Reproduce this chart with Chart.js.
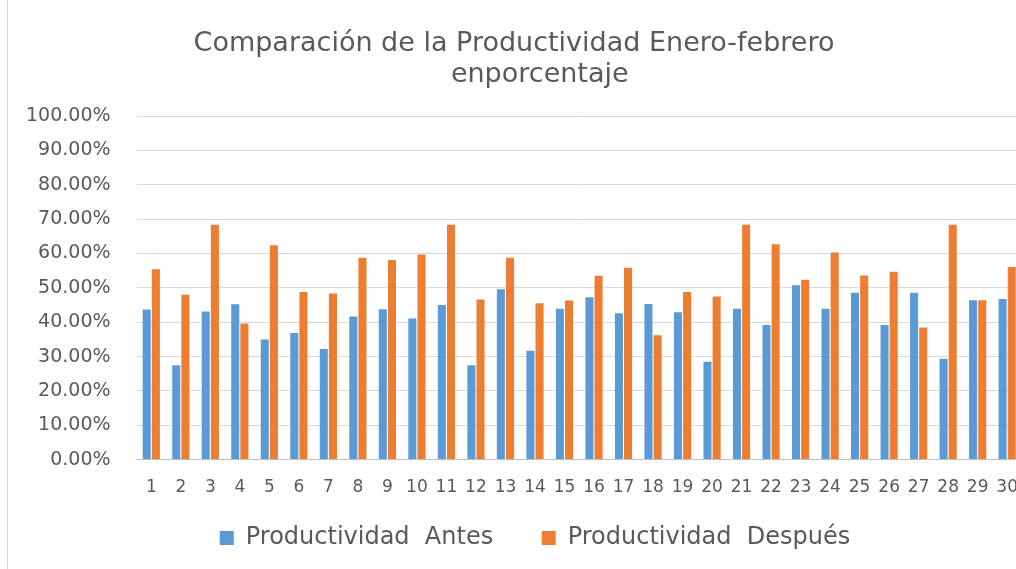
<!DOCTYPE html>
<html>
<head>
<meta charset="utf-8">
<script src="https://cdn.jsdelivr.net/npm/chart.js@4.4.0/dist/chart.umd.min.js"></script>
<style>
  html, body { margin: 0; padding: 0; background: #fff; overflow: hidden; }
  #marco { position: relative; width: 1016px; height: 569px; overflow: hidden; }
  #linea { position: absolute; left: 7px; top: 0; width: 1px; height: 569px; background: #d9d9d9; }
  #caja { position: absolute; left: 0; top: 0; width: 1028px; height: 569px; }
</style>
</head>
<body>
<div id="marco">
  <div id="caja"><canvas id="grafico"></canvas></div>
  <div id="linea"></div>
</div>
<script>
// datos (fraccion)
const trabajadores = ['1','2','3','4','5','6','7','8','9','10','11','12','13','14','15',
  '16','17','18','19','20','21','22','23','24','25','26','27','28','29','30'];
const antes = [0.437, 0.275, 0.431, 0.452, 0.350, 0.369, 0.322, 0.417, 0.438, 0.411,
  0.450, 0.275, 0.496, 0.317, 0.439, 0.473, 0.426, 0.453, 0.429, 0.285,
  0.439, 0.392, 0.508, 0.439, 0.486, 0.392, 0.486, 0.294, 0.464, 0.468];
const despues = [0.554, 0.480, 0.684, 0.396, 0.624, 0.488, 0.484, 0.588, 0.581, 0.597,
  0.684, 0.466, 0.588, 0.455, 0.463, 0.535, 0.559, 0.362, 0.488, 0.475,
  0.684, 0.627, 0.524, 0.603, 0.536, 0.547, 0.385, 0.684, 0.464, 0.561];
const titulo = ['Comparación de la Productividad Enero-febrero', '      enporcentaje'];

const ctx = document.getElementById('grafico');
const gris = '#595959';

// corre la leyenda un poco a la derecha como en el original
const moverLeyenda = {
  id: 'moverLeyenda',
  afterLayout(chart) {
    chart.legend.left += 21;
    chart.legend.right += 21;
  }
};

const grafico = new Chart(ctx, {
  type: 'bar',
  data: {
    labels: trabajadores,
    datasets: [
      {
        label: 'Productividad  Antes    ',
        data: antes,
        backgroundColor: '#5B9BD5'
      },
      {
        label: 'Productividad  Después',
        data: despues,
        backgroundColor: '#ED7D31'
      }
    ]
  },
  options: {
    responsive: true,
    maintainAspectRatio: false,
    animation: false,
    layout: { padding: { left: 0, right: 0, top: 28, bottom: 9 } },
    datasets: {
      bar: { categoryPercentage: 0.62, barPercentage: 0.88 }
    },
    plugins: {
      title: {
        display: true,
        text: titulo,
        color: gris,
        font: { family: 'DejaVu Sans', size: 27, weight: 'normal', lineHeight: 1.17 },
        padding: { top: 0, bottom: 25 }
      },
      legend: {
        position: 'bottom',
        labels: {
          color: gris,
          font: { family: 'DejaVu Sans', size: 24 },
          boxWidth: 14,
          boxHeight: 14,
          padding: 18
        }
      },
      tooltip: { enabled: false }
    },
    scales: {
      y: {
        min: 0,
        max: 1,
        ticks: {
          stepSize: 0.1,
          color: gris,
          padding: 26,
          font: { family: 'DejaVu Sans', size: 19 },
          callback: v => (v * 100).toFixed(2) + '%'
        },
        grid: { color: '#d9d9d9', drawTicks: false },
        border: { display: false }
      },
      x: {
        ticks: {
          color: gris,
          padding: 10,
          maxRotation: 0,
          autoSkip: false,
          font: { family: 'DejaVu Sans', size: 17 }
        },
        grid: { display: false },
        border: { color: '#bfbfbf' }
      }
    }
  },
  plugins: [moverLeyenda]
});
</script>
</body>
</html>
